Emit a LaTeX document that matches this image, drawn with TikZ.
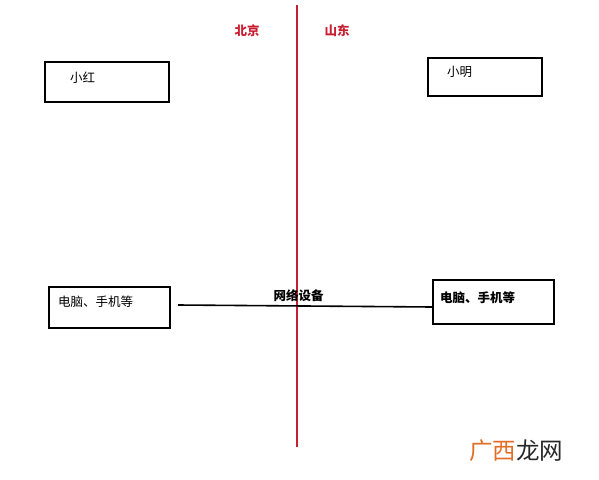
\documentclass[tikz,border=0pt]{standalone}
\usepackage{fontspec}
\newfontfamily\cjk{Noto Sans CJK SC}
\definecolor{redline}{RGB}{200,30,50}
\definecolor{wmorange}{RGB}{226,110,40}
\definecolor{wmgray}{RGB}{40,40,40}
\tikzset{
  box/.style={draw=black, line width=1.8pt, inner sep=0pt},
  lbl/.style={font=\cjk\fontsize{12.5}{14}\selectfont, anchor=west, inner sep=0pt},
  place/.style={font=\cjk\bfseries\fontsize{12.5}{14}\selectfont, text=redline, inner sep=0pt},
}
\begin{document}
\begin{tikzpicture}[x=1pt,y=-1pt]
\useasboundingbox[fill=white] (0,0) rectangle (599,479);
% red divider
\coordinate (top) at (296.5,5);
\coordinate (bot) at (296.5,447);
\draw[redline, line width=2pt] (top) -- (bot);
\node[place] (bj) at (247,31) {北京};
\node[place] (sd) at (337,31) {山东};
% boxes
\node[box, minimum width=124pt, minimum height=40pt] (xh) at (107,82) {};
\node[lbl] (xht) at (70,78) {小红};
\node[box, minimum width=114pt, minimum height=38pt] (xm) at (485,77) {};
\node[lbl] (xmt) at (447,72) {小明};
\node[box, minimum width=121pt, minimum height=41pt] (pcl) at (109.5,307.5) {};
\node[lbl] (pclt) at (58,302) {电脑、手机等};
\node[box, minimum width=121pt, minimum height=44pt] (pcr) at (493.5,302) {};
\node[lbl, font=\cjk\bfseries\fontsize{12.5}{14}\selectfont] (pcrt) at (440,298) {电脑、手机等};
% connector
\coordinate (cs) at (178,305);
\draw[black, line width=1.6pt] (cs) -- (pcr.west |- 0,307);
\node[font=\cjk\bfseries\fontsize{12.5}{14}\selectfont, inner sep=0pt] (net) at (298.5,296) {网络设备};
% watermark
\node[font=\cjk\fontsize{23.5}{26}\selectfont, anchor=west, inner sep=0pt] (wm) at (469,451) {\textcolor{wmorange}{广西}\textcolor{wmgray}{龙网}};
\end{tikzpicture}
\end{document}
